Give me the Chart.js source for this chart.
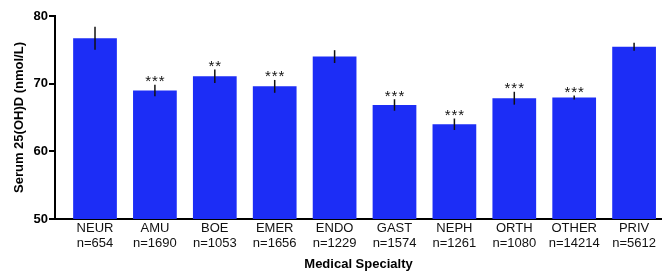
<!DOCTYPE html>
<html>
<head>
<meta charset="utf-8">
<script src="https://cdn.jsdelivr.net/npm/chart.js@4"></script>
<style>
  html, body { margin: 0; padding: 0; background: #fff; }
</style>
</head>
<body>
<canvas id="chart-vitd" width="662" height="271"></canvas>
<script>
// data
specialties = ['NEUR', 'AMU', 'BOE', 'EMER', 'ENDO', 'GAST', 'NEPH', 'ORTH', 'OTHER', 'PRIV'];
sampleSizes = [654, 1690, 1053, 1656, 1229, 1574, 1261, 1080, 14214, 5612];
meanLevels = [76.7, 69.0, 71.1, 69.6, 74.0, 66.85, 64.0, 67.85, 67.95, 75.45];
errorSizes = [1.7, 0.85, 1.0, 0.95, 0.95, 0.85, 0.85, 0.95, 0.3, 0.6];
significance = ['', '***', '**', '***', '', '***', '***', '***', '***', ''];
yTicks = [50, 60, 70, 80];

barColor = '#1c2df6';
fontFamily = "'Liberation Sans', Arial, sans-serif";

// error bars + asterisks on top of the bars
const errorBarPlugin = {
    id: 'errorBars',
    afterDatasetsDraw(chart) {
        const ctx = chart.ctx;
        const xScale = chart.scales.x;
        const yScale = chart.scales.y;
        ctx.save();
        meanLevels.forEach((mean, i) => {
            const x = xScale.getPixelForValue(i);
            const yTop = yScale.getPixelForValue(mean + errorSizes[i]);
            const yBottom = yScale.getPixelForValue(mean - errorSizes[i]);
            ctx.strokeStyle = '#111';
            ctx.lineWidth = 1.5;
            ctx.beginPath();
            ctx.moveTo(x, yTop);
            ctx.lineTo(x, yBottom);
            ctx.stroke();

            if (significance[i]) {
                ctx.fillStyle = '#111';
                ctx.font = '15px ' + fontFamily;
                ctx.textAlign = 'center';
                ctx.textBaseline = 'alphabetic';
                ctx.letterSpacing = '1px';
                ctx.fillText(significance[i], x + 0.5, yTop + 1.5);
            }
        });
        ctx.restore();
    },
};

var ctx1 = document.getElementById('chart-vitd').getContext('2d');

new Chart(ctx1, {
    type: 'bar',
    data: {
        datasets: [
            {
                label: 'Serum 25(OH)D',
                data: meanLevels.map((v, i) => ({ x: i, y: v })),
                backgroundColor: barColor,
                borderWidth: 0,
                barPercentage: 0.73,
                categoryPercentage: 1.0,
            },
        ],
    },
    options: {
        responsive: false,
        animation: false,
        layout: {
            padding: { top: 16, right: 0, bottom: 0, left: 0 },
        },
        plugins: {
            legend: { display: false },
            tooltip: { enabled: false },
        },
        scales: {
            x: {
                type: 'linear',
                offset: false,
                min: -0.668,
                max: 9.466,
                afterBuildTicks: (scale) => {
                    scale.ticks = specialties.map((_, i) => ({ value: i }));
                },
                afterFit: (scale) => {
                    scale.height = 52;
                },
                grid: {
                    display: false,
                    offset: false,
                    drawTicks: false,
                },
                border: {
                    display: true,
                    color: '#000',
                    width: 2,
                },
                ticks: {
                    padding: 2,
                    color: '#111',
                    maxRotation: 0,
                    autoSkip: false,
                    font: { family: fontFamily, size: 13, lineHeight: 1.154 },
                    callback: (value) => [specialties[value], 'n=' + sampleSizes[value]],
                },
                title: {
                    display: true,
                    text: 'Medical Specialty',
                    color: '#000',
                    padding: { top: 0, bottom: 0 },
                    font: { family: fontFamily, size: 13, weight: 'bold', lineHeight: 1 },
                },
            },
            y: {
                min: 50,
                max: 80,
                afterBuildTicks: (scale) => {
                    scale.ticks = yTicks.map((v) => ({ value: v }));
                },
                afterFit: (scale) => {
                    scale.width = 55;
                },
                grid: {
                    drawOnChartArea: false,
                    drawTicks: true,
                    tickLength: 6,
                    color: '#000',
                    lineWidth: 2,
                },
                border: {
                    display: true,
                    color: '#000',
                    width: 2,
                },
                ticks: {
                    padding: 1,
                    color: '#000',
                    font: { family: fontFamily, size: 13, weight: 'bold' },
                },
                title: {
                    display: true,
                    text: 'Serum 25(OH)D (nmol/L)',
                    color: '#000',
                    padding: { top: 12, bottom: 0 },
                    font: { family: fontFamily, size: 13, weight: 'bold', lineHeight: 1.2 },
                },
            },
        },
    },
    plugins: [errorBarPlugin],
});
</script>
</body>
</html>
